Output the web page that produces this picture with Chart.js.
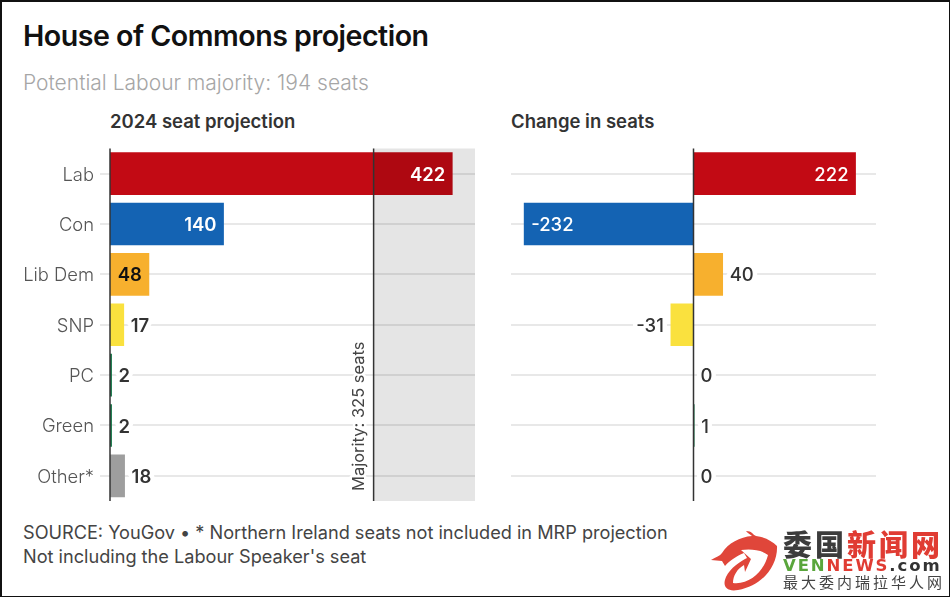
<!DOCTYPE html>
<html>
<head>
<meta charset="utf-8">
<script src="https://cdn.jsdelivr.net/npm/chart.js@4"></script>
<style>
    html, body { margin: 0; padding: 0; background: #fff; }
    #frame { position: relative; width: 950px; height: 597px; overflow: hidden; font-family: Inter, sans-serif; }
    #edge { position: absolute; left: 0; top: 0; width: 950px; height: 597px; box-sizing: border-box; border: 1px solid #111; border-width: 2px 1px 1px 2px; }
    .txt { position: absolute; white-space: nowrap; }
    #title { left: 23px; top: 17px; font-size: 28.6px; line-height: 38px; font-weight: 600; color: #111; letter-spacing: -0.5px; }
    #subtitle { left: 23px; top: 69px; font-size: 21px; line-height: 28px; font-weight: 300; color: #a6a6a6; }
    .panel-title { top: 108px; font-size: 18.5px; line-height: 26px; font-weight: 600; color: #333; }
    #source { left: 23px; top: 521px; font-size: 18.15px; line-height: 23.5px; font-weight: 400; color: #444; }
    canvas { position: absolute; top: 140px; }
    #leftChart { left: 0; }
    #rightChart { left: 500px; }
    #logo { position: absolute; left: 0; top: 0; }
    #wmName { left: 783px; top: 526px; font: 900 29px/34px "Noto Sans CJK SC", sans-serif; letter-spacing: 3px; color: #3c3c3c; }
    #wmName b { color: #e03c33; font-weight: 900; }
    #wmSite { left: 783px; top: 557px; font: 700 16.5px/17px "DejaVu Sans", sans-serif; letter-spacing: 1.9px; color: #333; }
    #wmSub { left: 783px; top: 573px; font: 400 15px/18px "Noto Sans CJK SC", sans-serif; letter-spacing: 3px; color: #444; }
</style>
</head>
<body>
<div id="frame">
    <div class="txt" id="title">House of Commons projection</div>
    <div class="txt" id="subtitle">Potential Labour majority: 194 seats</div>
    <div class="txt panel-title" style="left:110px">2024 seat projection</div>
    <div class="txt panel-title" style="left:511px">Change in seats</div>
    <div class="txt" id="source">SOURCE: YouGov • * Northern Ireland seats not included in MRP projection<br>Not including the Labour Speaker's seat</div>
    <canvas id="leftChart" width="490" height="370"></canvas>
    <canvas id="rightChart" width="400" height="370"></canvas>
    <svg id="logo" width="950" height="597">
        <path fill="#e0463a" d="M777 546 C778 566 762 586 738 590 C726 592 722 586 726 577 C730 568 741 561 747 558 L744 553 C736 556 728 562 725 566 L722 561 L711 560 C716 557 720 556 722 553 C728 543 740 537 752 536 C750 534 747 533 746 531 C752 531 752 534 756 536 C765 537 772 541 777 546 Z M768 555 C760 549 749 549 741 550 L751 559 L745 572 L744 565 C737 569 733 576 733 583 C750 585 764 571 768 555 Z"/>
    </svg>
    <div class="txt" id="wmName">委国<b>新闻网</b></div>
    <div class="txt" id="wmSite"><span style="color:#5aa63c">VEN</span><span style="color:#e03c33">NEWS</span>.com</div>
    <div class="txt" id="wmSub">最大委内瑞拉华人网</div>
    <div id="edge"></div>
</div>

<script>
const categories = ['Lab', 'Con', 'Lib Dem', 'SNP', 'PC', 'Green', 'Other*'];
const seats = [422, 140, 48, 17, 2, 2, 18];
const seatChange = [222, -232, 40, -31, 0, 1, 0];
const partyColours = ['#c20a14', '#1463b3', '#f7b02e', '#fae13e', '#1a7a4c', '#1a7a4c', '#9e9e9e'];
const seatsLabelColours = ['#fff', '#fff', '#111', '#333', '#333', '#333', '#333'];
const changeLabelColours = ['#fff', '#fff', '#333', '#333', '#333', '#333', '#333'];
const majoritySeats = 325;
const seatsMax = 450;
const changeRange = [-250, 250];

const LABEL_FONT = 'Inter, sans-serif';
const GRID = '#e8e8e8';
const AXIS = '#333';

// value labels sit inside the bar when it is wide enough, otherwise just past its end
function drawValueLabels(chart, labelColours, weight, minInside) {
    const ctx = chart.ctx;
    const meta = chart.getDatasetMeta(0);
    const values = chart.data.datasets[0].data;
    const zero = chart.scales.x.getPixelForValue(0);
    ctx.save();
    ctx.font = `${weight} 18.5px ${LABEL_FONT}`;
    ctx.textBaseline = 'middle';
    ctx.lineJoin = 'round';
    values.forEach((v, i) => {
        const bar = meta.data[i];
        const neg = v < 0;
        const inside = Math.abs(v) >= minInside;
        let x = bar.x;
        if (inside) {
            x += neg ? 7 : -7;
            ctx.textAlign = neg ? 'left' : 'right';
        } else {
            x = (v === 0 ? zero : bar.x) + (neg ? -7 : 7);
            ctx.textAlign = neg ? 'right' : 'left';
        }
        const y = bar.y + 1.5;
        if (!inside) {
            ctx.strokeStyle = '#fff';
            ctx.lineWidth = 9;
            ctx.strokeText(String(v), x, y);
        }
        ctx.fillStyle = labelColours[i];
        ctx.fillText(String(v), x, y);
    });
    ctx.restore();
}

function drawZeroLine(chart) {
    const ctx = chart.ctx;
    const area = chart.chartArea;
    const x = chart.scales.x.getPixelForValue(0);
    ctx.save();
    ctx.strokeStyle = AXIS;
    ctx.lineWidth = 1.5;
    ctx.beginPath();
    ctx.moveTo(x, area.top);
    ctx.lineTo(x, area.bottom);
    ctx.stroke();
    ctx.restore();
}

const seatsPlugin = {
    id: 'seatsPlugin',
    afterDatasetsDraw(chart) {
        const ctx = chart.ctx;
        const area = chart.chartArea;
        const x = chart.scales.x.getPixelForValue(majoritySeats);

        // grey band is see-through: gridlines and the Lab bar darken under it
        ctx.save();
        ctx.fillStyle = 'rgba(0,0,0,0.1)';
        ctx.fillRect(x, area.top, area.right - x, area.bottom - area.top);
        ctx.strokeStyle = AXIS;
        ctx.lineWidth = 1.5;
        ctx.beginPath();
        ctx.moveTo(x, area.top);
        ctx.lineTo(x, area.bottom);
        ctx.stroke();

        ctx.translate(x - 15, area.bottom - 10);
        ctx.rotate(-Math.PI / 2);
        ctx.font = `400 16.5px ${LABEL_FONT}`;
        ctx.textAlign = 'left';
        ctx.textBaseline = 'middle';
        ctx.strokeStyle = '#fff';
        ctx.lineWidth = 5;
        ctx.lineJoin = 'round';
        ctx.strokeText(`Majority: ${majoritySeats} seats`, 0, 0);
        ctx.fillStyle = '#444';
        ctx.fillText(`Majority: ${majoritySeats} seats`, 0, 0);
        ctx.restore();

        drawZeroLine(chart);
        drawValueLabels(chart, seatsLabelColours, 600, 40);
    }
};

const changePlugin = {
    id: 'changePlugin',
    afterDatasetsDraw(chart) {
        drawZeroLine(chart);
        drawValueLabels(chart, changeLabelColours, 500, 100);
    }
};

function baseOptions(xMin, xMax, padding) {
    return {
        indexAxis: 'y',
        responsive: false,
        animation: false,
        layout: { padding, autoPadding: false },
        plugins: { legend: { display: false }, tooltip: { enabled: false } },
        scales: {
            x: { display: false, min: xMin, max: xMax },
            y: {}
        }
    };
}

const leftOptions = baseOptions(0, seatsMax, { left: 0, right: 15, top: 8.5, bottom: 9 });
leftOptions.scales.y = {
    afterFit: s => { s.width = 110; s.paddingTop = 0; s.paddingBottom = 0; },
    border: { display: false },
    grid: { offset: false, color: GRID, lineWidth: 2, tickLength: 10, tickColor: GRID },
    ticks: { color: '#555', padding: 6, labelOffset: 1.5, font: { family: 'Inter', size: 18.4, weight: '300' } }
};

new Chart(document.getElementById('leftChart'), {
    type: 'bar',
    data: { labels: categories, datasets: [{ data: seats, backgroundColor: partyColours, barThickness: 42 }] },
    options: leftOptions,
    plugins: [seatsPlugin]
});

const rightOptions = baseOptions(changeRange[0], changeRange[1], { left: 11, right: 24, top: 8.5, bottom: 9 });
rightOptions.scales.y = {
    afterFit: s => { s.width = 0; },
    border: { display: false },
    grid: { offset: false, color: GRID, lineWidth: 2, drawTicks: false },
    ticks: { display: false }
};

new Chart(document.getElementById('rightChart'), {
    type: 'bar',
    data: { labels: categories, datasets: [{ data: seatChange, backgroundColor: partyColours, barThickness: 42 }] },
    options: rightOptions,
    plugins: [changePlugin]
});
</script>
</body>
</html>
